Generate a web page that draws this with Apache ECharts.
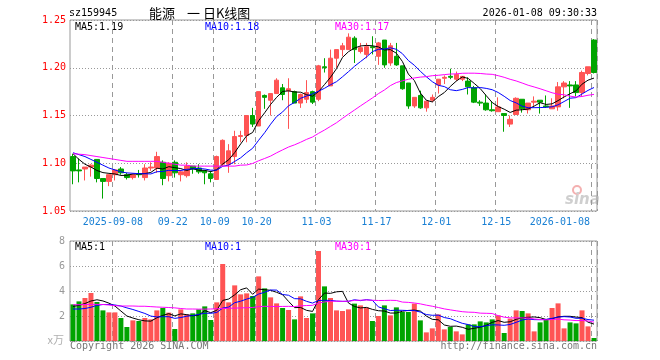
<!DOCTYPE html>
<html><head><meta charset="utf-8">
<script src="https://cdn.jsdelivr.net/npm/echarts@6/dist/echarts.min.js"></script>
<style>html,body{margin:0;padding:0;background:#fff}#c{width:660px;height:360px}</style>
</head><body><div id="c"></div>
<script>
const dates = ['2025-08-28','2025-08-29',
'2025-09-01','2025-09-02','2025-09-03','2025-09-04','2025-09-05',
'2025-09-08','2025-09-09','2025-09-10','2025-09-11','2025-09-12',
'2025-09-15','2025-09-16','2025-09-17','2025-09-18','2025-09-19',
'2025-09-22','2025-09-23','2025-09-24','2025-09-25','2025-09-26',
'2025-09-29','2025-09-30',
'2025-10-09','2025-10-10',
'2025-10-13','2025-10-14','2025-10-15','2025-10-16','2025-10-17',
'2025-10-20','2025-10-21','2025-10-22','2025-10-23','2025-10-24',
'2025-10-27','2025-10-28','2025-10-29','2025-10-30','2025-10-31',
'2025-11-03','2025-11-04','2025-11-05','2025-11-06','2025-11-07',
'2025-11-10','2025-11-11','2025-11-12','2025-11-13','2025-11-14',
'2025-11-17','2025-11-18','2025-11-19','2025-11-20','2025-11-21',
'2025-11-24','2025-11-25','2025-11-26','2025-11-27','2025-11-28',
'2025-12-01','2025-12-02','2025-12-03','2025-12-04','2025-12-05',
'2025-12-08','2025-12-09','2025-12-10','2025-12-11','2025-12-12',
'2025-12-15','2025-12-16','2025-12-17','2025-12-18','2025-12-19',
'2025-12-22','2025-12-23','2025-12-24','2025-12-25','2025-12-26',
'2025-12-29','2025-12-30','2025-12-31',
'2026-01-05','2026-01-06','2026-01-07','2026-01-08'];

const opens = [1.107,1.093,1.094,1.096,1.104,1.084,1.081,1.088,1.094,1.088,
1.085,1.089,1.085,1.095,1.095,1.101,1.087,1.101,1.088,1.087,
1.097,1.095,1.092,1.089,1.083,1.099,1.099,1.107,1.128,1.129,
1.150,1.139,1.171,1.166,1.173,1.179,1.176,1.175,1.163,1.167,
1.175,1.167,1.201,1.181,1.210,1.219,1.219,1.231,1.217,1.214,
1.222,1.212,1.229,1.205,1.212,1.202,1.184,1.160,1.171,1.158,
1.166,1.182,1.189,1.191,1.188,1.188,1.186,1.179,1.164,1.163,
1.156,1.154,1.152,1.141,1.151,1.167,1.156,1.164,1.166,1.160,
1.157,1.159,1.180,1.182,1.182,1.174,1.194,1.229];

const closes = [1.092,1.092,1.096,1.098,1.084,1.081,1.088,1.093,1.090,1.085,
1.088,1.088,1.095,1.096,1.107,1.084,1.100,1.090,1.091,1.097,
1.094,1.091,1.090,1.084,1.107,1.124,1.113,1.128,1.129,1.150,
1.141,1.175,1.169,1.173,1.187,1.172,1.178,1.163,1.172,1.174,
1.164,1.202,1.200,1.210,1.219,1.223,1.232,1.219,1.221,1.222,
1.221,1.226,1.203,1.223,1.203,1.178,1.160,1.169,1.158,1.165,
1.169,1.188,1.190,1.190,1.193,1.191,1.180,1.164,1.163,1.156,
1.155,1.159,1.150,1.146,1.168,1.157,1.163,1.165,1.164,1.159,
1.160,1.180,1.184,1.181,1.174,1.195,1.201,1.195];

const lows = [1.078,1.080,1.082,1.086,1.080,1.063,1.076,1.082,1.088,1.083,
1.083,1.085,1.082,1.092,1.090,1.077,1.081,1.085,1.081,1.085,
1.089,1.089,1.078,1.080,1.083,1.097,1.090,1.099,1.122,1.122,
1.138,1.139,1.157,1.150,1.173,1.166,1.136,1.163,1.158,1.163,
1.162,1.165,1.195,1.181,1.200,1.212,1.219,1.205,1.215,1.210,
1.214,1.203,1.200,1.202,1.202,1.177,1.157,1.158,1.157,1.154,
1.164,1.173,1.183,1.188,1.186,1.186,1.172,1.163,1.160,1.155,
1.154,1.154,1.133,1.138,1.151,1.153,1.152,1.160,1.152,1.158,
1.157,1.155,1.168,1.158,1.170,1.170,1.192,1.194];

const highs = [1.110,1.105,1.096,1.099,1.104,1.084,1.088,1.094,1.096,1.090,
1.089,1.093,1.099,1.101,1.112,1.103,1.101,1.103,1.093,1.101,
1.097,1.099,1.093,1.092,1.108,1.125,1.120,1.134,1.134,1.150,
1.158,1.175,1.172,1.173,1.189,1.183,1.189,1.176,1.173,1.187,
1.176,1.203,1.210,1.219,1.219,1.226,1.236,1.233,1.226,1.226,
1.233,1.227,1.229,1.226,1.226,1.202,1.184,1.169,1.176,1.165,
1.172,1.188,1.192,1.199,1.196,1.191,1.190,1.181,1.166,1.172,
1.165,1.169,1.152,1.150,1.169,1.167,1.163,1.170,1.166,1.171,
1.168,1.185,1.186,1.186,1.186,1.197,1.201,1.230];

const volumes = [2.93,3.17,3.44,3.84,3.12,2.45,2.29,2.29,1.84,1.12,
1.65,1.60,1.84,1.73,2.45,2.64,2.27,0.96,2.53,2.13,
2.21,2.53,2.77,1.68,3.09,6.16,3.09,4.45,3.73,3.81,
3.60,5.17,4.21,3.49,3.01,2.64,2.48,1.73,3.57,1.84,
2.21,7.20,4.37,3.44,2.45,2.40,2.53,2.99,2.85,2.67,
1.60,2.00,2.85,2.05,2.69,2.32,2.32,2.99,1.65,0.69,
1.01,2.13,0.93,1.12,0.77,0.53,1.33,1.33,1.57,1.49,
1.73,2.05,0.64,1.79,2.45,2.40,2.21,0.77,1.49,1.73,
2.64,3.01,1.01,1.49,1.41,2.45,1.17,0.24];

// moving-average values for the first days (history before the window)
const ma5Lead = [1.110,1.104,1.099,1.096];
const ma10Lead = [1.111,1.109,1.107,1.104,1.101,1.098,1.095,1.093,1.091];
const ma30Lead = [1.110,1.1095,1.109,1.108,1.107,1.106,1.105,1.104,1.103,1.102,
1.102,1.102,1.102,1.102,1.102,1.101,1.100,1.099,1.098,1.098,
1.097,1.097,1.097,1.097,1.097,1.097,1.097,1.097,1.098];
const vma5Lead = [2.77,2.85,3.0,3.2];
const vma10Lead = [2.56,2.56,2.6,2.7,2.85,2.92,2.92,2.88,2.8];
const vma30Lead = [2.9,2.9,2.92,2.93,2.93,2.92,2.88,2.83,2.8,2.8,
2.8,2.78,2.78,2.75,2.72,2.7,2.68,2.65,2.6,2.56,
2.56,2.55,2.55,2.56,2.58,2.6,2.62,2.63,2.65];

const tickDates = ['2025-09-08','2025-09-22','2025-10-09','2025-10-20','2025-11-03','2025-11-17','2025-12-01','2025-12-15','2026-01-08'];
const tickLabels = ['2025-09-08','09-22','10-09','10-20','11-03','11-17','12-01','12-15','2026-01-08'];

const UP = '#ff5454', DOWN = '#00a400';
const GRIDC = '#999999';
const MONO = '"DejaVu Sans Mono", "Liberation Mono", monospace';

function movingAvg(src, n, lead) {
  return src.map((_, i) => {
    if (i < n - 1) return lead[i];
    let s = 0;
    for (let j = i - n + 1; j <= i; j++) s += src[j];
    return +(s / n).toFixed(4);
  });
}
const ma5 = movingAvg(closes, 5, ma5Lead);
const ma10 = movingAvg(closes, 10, ma10Lead);
const ma30 = movingAvg(closes, 30, ma30Lead);
const vma5 = movingAvg(volumes, 5, vma5Lead);
const vma10 = movingAvg(volumes, 10, vma10Lead);
const vma30 = movingAvg(volumes, 30, vma30Lead);

const candleData = dates.map((d, i) => [opens[i], closes[i], lows[i], highs[i]]);
const volData = volumes.map((v, i) => ({
  value: v,
  itemStyle: { color: closes[i] >= opens[i] ? UP : DOWN }
}));

const tickSet = new Set(tickDates);
const showTick = (idx, val) => tickSet.has(dates[idx]);

const chart = echarts.init(document.getElementById('c'), null, { renderer: 'canvas' });

function xAxisCfg(gridIndex, showLabels) {
  return {
    type: 'category', gridIndex, data: dates, boundaryGap: true, z: 1,
    axisLine: { show: false }, axisTick: { show: false },
    axisLabel: showLabels ? {
      show: true, interval: showTick, color: '#1a80d4', fontFamily: MONO, fontSize: 10,
      margin: 6, padding: [0, 4, 0, 0], alignMaxLabel: 'right',
      formatter: v => tickLabels[tickDates.indexOf(v)] || ''
    } : { show: false, interval: showTick },
    splitLine: { show: true, interval: showTick, lineStyle: { color: GRIDC, type: [5, 4], width: 1 } }
  };
}

const line = (name, data, color, xi, yi) => ({
  name, type: 'line', data, xAxisIndex: xi, yAxisIndex: yi, symbol: 'none',
  lineStyle: { color, width: 1 }, silent: true, z: 5
});

const txt = (text, x, y, fill, font, align) => ({
  type: 'text', x, y, silent: true,
  style: { text, fill, font, textAlign: align || 'left', textVerticalAlign: 'middle' }
});

chart.setOption({
  animation: false,
  backgroundColor: '#fff',
  grid: [
    { left: 70, top: 20, width: 527, height: 191, show: true, z: 0, backgroundColor: 'rgba(0,0,0,0)', borderColor: '#999', borderWidth: 1 },
    { left: 70, top: 241, width: 527, height: 100, show: true, z: 0, backgroundColor: 'rgba(0,0,0,0)', borderColor: '#999', borderWidth: 1 }
  ],
  xAxis: [xAxisCfg(0, true), xAxisCfg(1, false)],
  yAxis: [
    { type: 'value', gridIndex: 0, min: 1.05, max: 1.25, interval: 0.05, z: 1,
      axisLine: { show: false }, axisTick: { show: false },
      axisLabel: { color: '#f00', fontFamily: MONO, fontSize: 10, margin: 4, formatter: v => v.toFixed(2) },
      splitLine: { show: true, lineStyle: { color: GRIDC, type: [1, 2], width: 1 } } },
    { type: 'value', gridIndex: 1, min: 0, max: 8, interval: 2, z: 1,
      axisLine: { show: false }, axisTick: { show: false },
      axisLabel: { color: '#999', fontFamily: MONO, fontSize: 10, margin: 5, formatter: v => v === 0 ? '' : String(v) },
      splitLine: { show: true, lineStyle: { color: GRIDC, type: [1, 2], width: 1 } } }
  ],
  series: [
    { type: 'candlestick', name: 'K', data: candleData, xAxisIndex: 0, yAxisIndex: 0, barWidth: 5,
      itemStyle: { color: UP, color0: DOWN, borderColor: UP, borderColor0: DOWN, borderWidth: 1 }, z: 3 },
    line('MA5', ma5, '#000', 0, 0),
    line('MA10', ma10, '#0000ff', 0, 0),
    line('MA30', ma30, '#ff00ff', 0, 0),
    { type: 'bar', name: 'VOL', data: volData, xAxisIndex: 1, yAxisIndex: 1, barWidth: 5 },
    line('VMA5', vma5, '#000', 1, 1),
    line('VMA10', vma10, '#0000ff', 1, 1),
    line('VMA30', vma30, '#ff00ff', 1, 1)
  ],
  graphic: [
    txt('sz159945', 69, 13, '#000', '10px ' + MONO),
    txt('能源', 149, 13, '#000', '13px "Noto Sans CJK SC"'),
    txt('一 日K线图', 187, 13, '#000', '13px "Noto Sans CJK SC"'),
    txt('2026-01-08 09:30:33', 597, 13, '#000', '10px ' + MONO, 'right'),
    txt('MA5:1.19', 75, 27, '#000', '10px ' + MONO),
    txt('MA10:1.18', 205, 27, '#0000ff', '10px ' + MONO),
    txt('MA30:1.17', 335, 27, '#ff00ff', '10px ' + MONO),
    txt('MA5:1', 75, 247, '#000', '10px ' + MONO),
    txt('MA10:1', 205, 247, '#0000ff', '10px ' + MONO),
    txt('MA30:1', 335, 247, '#ff00ff', '10px ' + MONO),
    txt('x万', 64, 340, '#b0b0b0', '11px "Noto Sans CJK SC"', 'right'),
    txt('Copyright 2026 SINA.COM', 70, 346, '#777', '10px ' + MONO),
    txt('http://finance.sina.com.cn', 597, 346, '#777', '10px ' + MONO, 'right'),
    { type: 'circle', shape: { cx: 577, cy: 190, r: 4 }, silent: true, z: -1,
      style: { fill: 'none', stroke: '#f4b0b0', lineWidth: 2 } },
    { type: 'text', x: 565, y: 200, silent: true, z: -1,
      style: { text: 'sina', fill: '#cfcfcf', font: 'italic bold 15px "DejaVu Sans"', textAlign: 'left', textVerticalAlign: 'middle' } }
  ]
});
</script></body></html>
